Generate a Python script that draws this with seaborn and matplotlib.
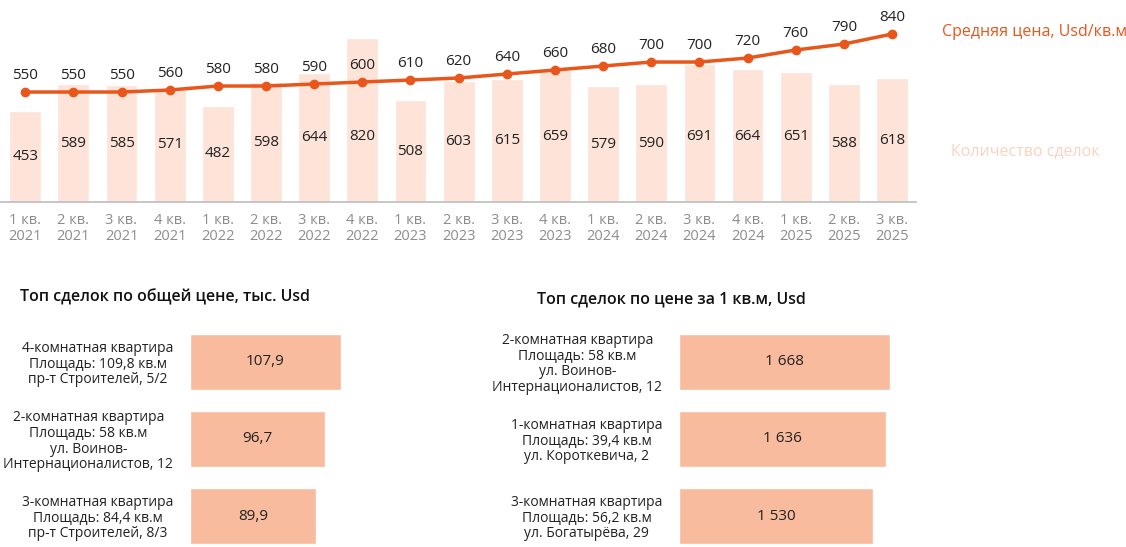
import matplotlib
matplotlib.use("Agg")
import matplotlib.pyplot as plt
import seaborn as sns
import pandas as pd

sns.set_theme(style="white")
plt.rcParams['font.family'] = ['Open Sans', 'DejaVu Sans']

quarters = ["1 кв.\n2021","2 кв.\n2021","3 кв.\n2021","4 кв.\n2021",
            "1 кв.\n2022","2 кв.\n2022","3 кв.\n2022","4 кв.\n2022",
            "1 кв.\n2023","2 кв.\n2023","3 кв.\n2023","4 кв.\n2023",
            "1 кв.\n2024","2 кв.\n2024","3 кв.\n2024","4 кв.\n2024",
            "1 кв.\n2025","2 кв.\n2025","3 кв.\n2025"]
deals = [453,589,585,571,482,598,644,820,508,603,615,659,579,590,691,664,651,588,618]
price = [550,550,550,560,580,580,590,600,610,620,640,660,680,700,700,720,760,790,840]

left_labels = ["4-комнатная квартира\nПлощадь: 109,8 кв.м\nпр-т Строителей, 5/2",
               "2-комнатная квартира\nПлощадь: 58 кв.м\nул. Воинов-\nИнтернационалистов, 12",
               "3-комнатная квартира\nПлощадь: 84,4 кв.м\nпр-т Строителей, 8/3"]
left_vals = [107.9, 96.7, 89.9]
left_text = ["107,9", "96,7", "89,9"]

right_labels = ["2-комнатная квартира\nПлощадь: 58 кв.м\nул. Воинов-\nИнтернационалистов, 12",
                "1-комнатная квартира\nПлощадь: 39,4 кв.м\nул. Короткевича, 2",
                "3-комнатная квартира\nПлощадь: 56,2 кв.м\nул. Богатырёва, 29"]
right_vals = [1668, 1636, 1530]
right_text = ["1 668", "1 636", "1 530"]

BAR_LIGHT = "#FDE3D8"
LINE = "#E8561C"
BAR = "#F9BB9E"
GRAY = "#8C8C8C"

fig = plt.figure(figsize=(11.26, 5.47), dpi=100)

# top chart
ax = fig.add_axes([0.001, 0.6307, 0.8126, 0.3327])
n = len(quarters)
df = pd.DataFrame({"q": list(range(n)), "deals": deals, "price": price})
sns.barplot(data=df, x="q", y="deals", color=BAR_LIGHT, width=0.66, ax=ax, saturation=1)
sns.lineplot(data=df, x="q", y="price", color=LINE, lw=2.5, marker="o",
             markersize=7, markeredgewidth=0, ax=ax)
for i, (d, p) in enumerate(zip(deals, price)):
    ax.text(i, min(d / 2, 330), str(d), ha="center", va="center", fontsize=11, color="#222222")
    ax.text(i, p + 85, str(p), ha="center", va="center", fontsize=11, color="#222222")
ax.set_xlim(-0.5, n - 0.5)
ax.set_ylim(0, 910)
ax.set_xticks(range(n))
ax.set_xticklabels(quarters, fontsize=10.5, color=GRAY, linespacing=1.1)
ax.set_yticks([])
ax.set_xlabel(""); ax.set_ylabel("")
for s in ["top", "right", "left"]:
    ax.spines[s].set_visible(False)
ax.spines["bottom"].set_color("#BFBFBF")
ax.tick_params(axis="x", length=0, pad=8)

fig.text(1035/1126, 1 - 32/547, "Средняя цена, Usd/кв.м", color=LINE, fontsize=11.5,
         ha="center", va="center")
fig.text(1025/1126, 1 - 151/547, "Количество сделок", color="#FAD2C0", fontsize=11.5,
         ha="center", va="center")

def hbar(axh, labels, vals, texts, xmax):
    d = pd.DataFrame({"lab": labels, "v": vals})
    sns.barplot(data=d, y="lab", x="v", color=BAR, width=0.73, ax=axh, saturation=1, orient="h")
    for i, (v, t) in enumerate(zip(vals, texts)):
        axh.text(v / 2, i, t, ha="center", va="center", fontsize=11, color="#222222")
    axh.set_xlim(0, xmax)
    axh.set_ylim(2.40, -0.49)
    axh.set_xticks([])
    axh.set_xlabel(""); axh.set_ylabel("")
    for s in axh.spines.values():
        s.set_visible(False)
    axh.tick_params(axis="y", length=0, pad=12)
    for lab in axh.get_yticklabels():
        lab.set_multialignment("center")
        lab.set_fontsize(10)
        lab.set_color("#222222")
        lab.set_linespacing(1.05)

axl = fig.add_axes([190/1126, 0, 160/1126, 223/547])
hbar(axl, left_labels, left_vals, left_text, 160/1.4)
axr = fig.add_axes([679/1126, 0, 230/1126, 223/547])
hbar(axr, right_labels, right_vals, right_text, 230/0.1266)

fig.text(20/1126, 1 - 297/547, "Топ сделок по общей цене, тыс. Usd", fontsize=11.5,
         fontweight="semibold", ha="left", va="center", color="#111111")
fig.text(537/1126, 1 - 299/547, "Топ сделок по цене за 1 кв.м, Usd", fontsize=11.5,
         fontweight="semibold", ha="left", va="center", color="#111111")

fig.savefig("out.png", dpi=100)
